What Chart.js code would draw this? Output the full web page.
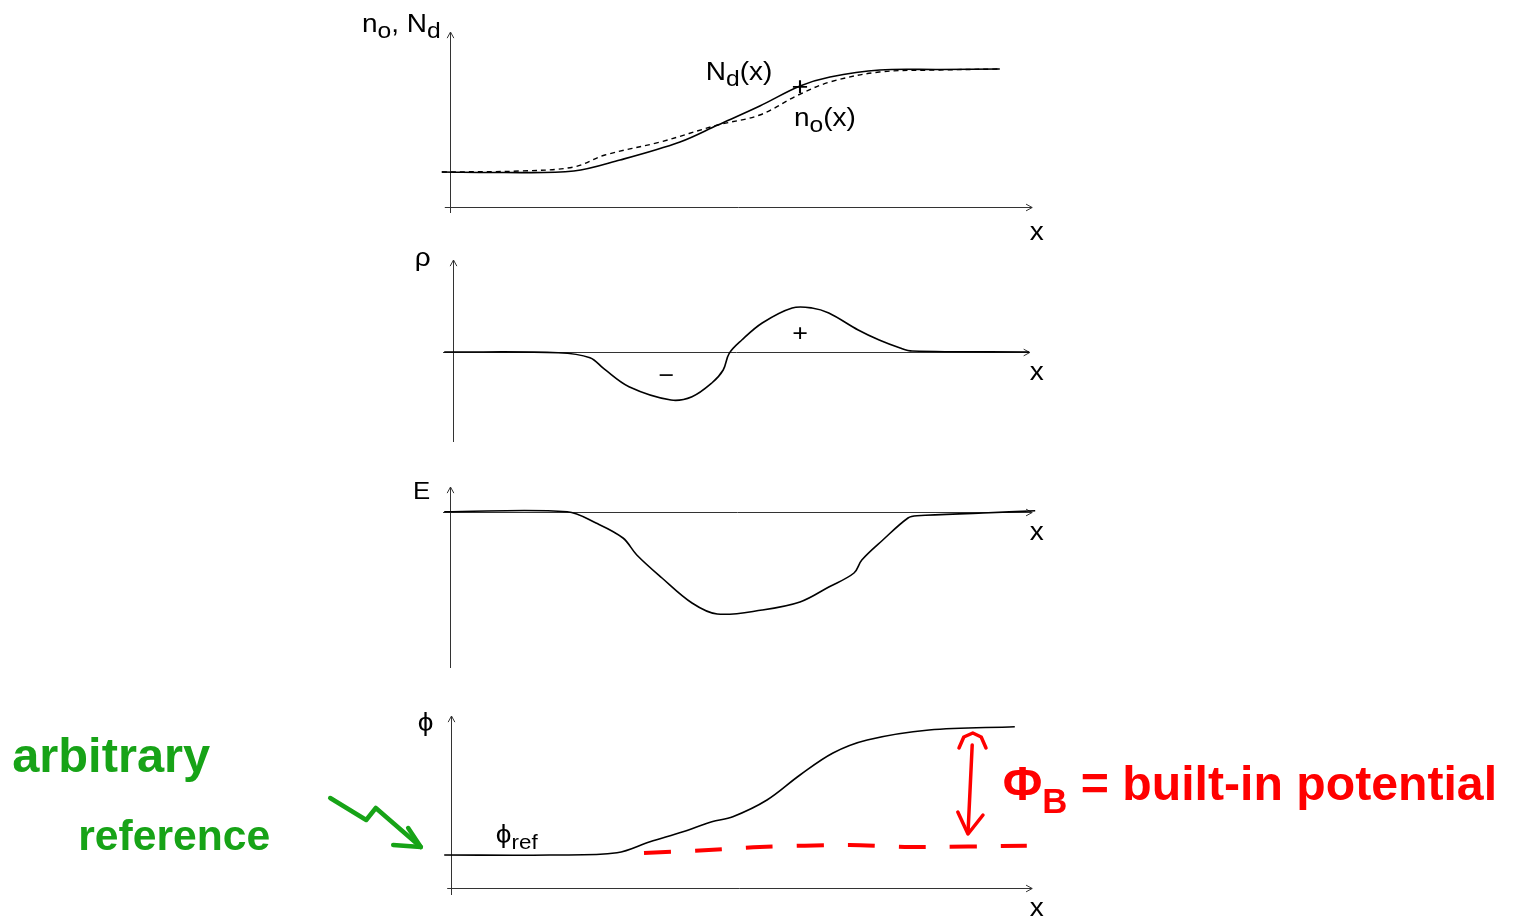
<!DOCTYPE html>
<html>
<head>
<meta charset="utf-8">
<script src="https://cdn.jsdelivr.net/npm/chart.js@4.4.1/dist/chart.umd.min.js"></script>
<style>
body { margin: 0; background: #fff; }
#wrap { position: relative; width: 1513px; height: 920px; }
canvas { position: absolute; left: 0; top: 0; }
</style>
</head>
<body>
<div id="wrap">
  <canvas id="cN" width="1513" height="920"></canvas>
  <canvas id="cRho" width="1513" height="920"></canvas>
  <canvas id="cE" width="1513" height="920"></canvas>
  <canvas id="cPhi" width="1513" height="920"></canvas>
</div>
<script>
// x runs 0..100 across every panel, y is in arbitrary units (0 = x axis)

// doping N_d(x) and electron density n_o(x)
const xNd = [0.3, 10, 22.3, 30, 40, 46.3, 53.3, 60, 65, 73.3, 83.3, 93.3];
const nd  = [3.5, 3.45, 3.6, 4.7, 6.5, 8.2, 10.1, 12.1, 13.0, 13.7, 13.75, 13.8];
const xN0 = [0.3, 13.3, 22.3, 27.5, 36.7, 46.3, 53.3, 59.7, 65, 73.2, 83.3, 93.3];
const n0  = [3.5, 3.6, 4.0, 5.2, 6.5, 8.2, 9.2, 11.2, 12.5, 13.5, 13.7, 13.8];

// charge density rho(x)
const xRho = [0.7, 19.7, 25, 27.3, 31.5, 38.5, 42, 45.3, 47.2, 48.2, 50.3, 53.7, 58.7, 62, 64.8, 69.7, 73.2, 76.7, 78.7, 98.2];
const rho  = [0, -0.07, -0.57, -1.67, -3.47, -4.8, -4.47, -3.1, -1.8, -0.13, 1.2, 2.9, 4.4, 4.4, 3.9, 2.2, 1.2, 0.4, 0.1, 0];

// electric field E(x)
const xE = [0.7, 21.2, 26, 30.5, 32.8, 37, 42, 46.2, 53.7, 60, 64.8, 69, 70.3, 73.8, 78, 79.5, 90.5, 99.2];
const eField = [0.03, 0.03, -1.1, -2.6, -4.3, -6.6, -9.1, -10.2, -9.8, -9.0, -7.5, -6.1, -4.8, -2.8, -0.6, -0.37, -0.1, 0.13];

// potential phi(x) and the reference level
const xPhi = [0.7, 18.3, 29.5, 35, 40.5, 45.3, 48.8, 54.5, 60, 65.5, 71.2, 81.5, 95.8];
const phi  = [3.3, 3.3, 3.53, 4.63, 5.63, 6.63, 7.13, 8.8, 11.3, 13.5, 14.8, 15.8, 16.13];
const xRef = [34, 43.3, 53.3, 68.3, 78.3, 97.8];
const phiRef = [3.5, 3.75, 4.1, 4.3, 4.1, 4.23];

const FONT = '"Liberation Sans", Arial, sans-serif';
const W = 1513, H = 920;

function pts(xs, ys) {
    return xs.map((x, i) => ({ x: x, y: ys[i] }));
}

// text pieces, [text, true] is a subscript
function richWidth(ctx, parts, size, weight, st) {
    let w = 0;
    parts.forEach(p => {
        const s = p[1] ? size * st.sub : size;
        ctx.font = weight + ' ' + s + 'px ' + FONT;
        w += ctx.measureText(p[0]).width;
    });
    return w * st.stretch;
}

function drawRich(ctx, parts, px, py, size, weight, st) {
    ctx.save();
    ctx.translate(px, py);
    ctx.scale(st.stretch, 1);
    let cx = 0;
    parts.forEach(p => {
        const s = p[1] ? size * st.sub : size;
        ctx.font = weight + ' ' + s + 'px ' + FONT;
        ctx.fillText(p[0], cx, p[1] ? size * st.drop : 0);
        cx += ctx.measureText(p[0]).width;
    });
    ctx.restore();
}

const LABEL = { stretch: 1.12, sub: 0.88, drop: 0.22 };
const HAND = { stretch: 1, sub: 0.72, drop: 0.28 };

function arrowLine(ctx, x0, y0, x1, y1) {
    ctx.beginPath();
    ctx.moveTo(x0, y0);
    ctx.lineTo(x1, y1);
    ctx.stroke();
    const a = Math.atan2(y1 - y0, x1 - x0);
    ctx.beginPath();
    ctx.moveTo(x1 - 7 * Math.cos(a - 0.5), y1 - 7 * Math.sin(a - 0.5));
    ctx.lineTo(x1, y1);
    ctx.lineTo(x1 - 7 * Math.cos(a + 0.5), y1 - 7 * Math.sin(a + 0.5));
    ctx.stroke();
}

function polyline(ctx, chart, list) {
    const { x, y } = chart.scales;
    ctx.beginPath();
    list.forEach((p, i) => {
        const px = x.getPixelForValue(p[0]), py = y.getPixelForValue(p[1]);
        if (i === 0) ctx.moveTo(px, py); else ctx.lineTo(px, py);
    });
    ctx.stroke();
}

// axes + labels for one panel
function makeSketch(cfg) {
    return {
        id: 'sketch',
        beforeDatasetsDraw(chart) {
            const { ctx, chartArea, scales: { x, y } } = chart;
            const ax = Math.round(x.getPixelForValue(cfg.yAxisAt)) + 0.5;
            const ay = Math.round(y.getPixelForValue(0)) + 0.5;
            ctx.save();
            ctx.strokeStyle = '#333';
            ctx.lineWidth = 1;
            arrowLine(ctx, ax, chartArea.bottom, ax, chartArea.top);
            arrowLine(ctx, x.getPixelForValue(cfg.xFrom), ay, x.getPixelForValue(cfg.xTo), ay);
            ctx.restore();
        },
        afterDatasetsDraw(chart) {
            const { ctx, scales: { x, y } } = chart;
            ctx.save();
            ctx.fillStyle = '#000';
            ctx.textBaseline = 'alphabetic';
            cfg.labels.forEach(l => {
                const st = l.st || LABEL;
                let px = x.getPixelForValue(l.at[0]);
                const py = y.getPixelForValue(l.at[1]);
                if (l.center) px -= richWidth(ctx, l.parts, l.size, 'normal', st) / 2;
                drawRich(ctx, l.parts, px, py, l.size, 'normal', st);
            });
            if (cfg.extra) cfg.extra(chart, ctx);
            ctx.restore();
        }
    };
}

function line(xs, ys, extra) {
    return Object.assign({
        data: pts(xs, ys),
        borderColor: '#000',
        borderWidth: 1.6,
        tension: 0.35,
        pointRadius: 0,
        fill: false,
        clip: false
    }, extra || {});
}

function panel(id, top, bottom, yMin, yMax, datasets, cfg) {
    return new Chart(document.getElementById(id), {
        type: 'line',
        data: { datasets: datasets },
        options: {
            responsive: false,
            animation: false,
            events: [],
            layout: { padding: { left: 440, right: W - 1040, top: top, bottom: H - bottom } },
            scales: {
                x: { type: 'linear', min: 0, max: 100, display: false },
                y: { type: 'linear', min: yMin, max: yMax, display: false }
            },
            plugins: { legend: { display: false }, tooltip: { enabled: false } }
        },
        plugins: [makeSketch(cfg)]
    });
}

// fits handwritten notes to a width given in data units
function note(ctx, chart, parts, x0, x1, yv, color) {
    const { x, y } = chart.scales;
    const px0 = x.getPixelForValue(x0), px1 = x.getPixelForValue(x1);
    const size = 100 * (px1 - px0) / richWidth(ctx, parts, 100, 'bold', HAND);
    ctx.fillStyle = color;
    drawRich(ctx, parts, px0, y.getPixelForValue(yv), size, 'bold', HAND);
}

panel('cN', 32, 213, -0.6, 17.5, [
    line(xNd, nd),
    line(xN0, n0, { borderDash: [5, 4], borderWidth: 1.4 })
], {
    yAxisAt: 1.67, xFrom: 0.8, xTo: 98.7,
    labels: [
        { at: [-13, 17.5], size: 25, parts: [['n'], ['o', true], [', N'], ['d', true]] },
        { at: [44.3, 12.7], size: 25, parts: [['N'], ['d', true], ['(x)']] },
        { at: [60, 11.2], size: 26, center: true, parts: [['+']] },
        { at: [59, 8.1], size: 25, parts: [['n'], ['o', true], ['(x)']] },
        { at: [98.3, -3.3], size: 25, parts: [['x']] }
    ]
});

panel('cRho', 260, 442, -9.0, 9.2, [line(xRho, rho)], {
    yAxisAt: 2.17, xFrom: 0.5, xTo: 98.3,
    labels: [
        { at: [-4.2, 8.6], size: 25, parts: [['ρ']] },
        { at: [37.7, -3.1], size: 24, center: true, parts: [['−']] },
        { at: [60, 1.1], size: 24, center: true, parts: [['+']] },
        { at: [98.3, -2.8], size: 25, parts: [['x']] }
    ]
});

panel('cE', 487, 668, -15.6, 2.5, [line(xE, eField)], {
    yAxisAt: 1.67, xFrom: 0.5, xTo: 98.7,
    labels: [
        { at: [-4.5, 1.3], size: 23, parts: [['E']] },
        { at: [98.3, -2.8], size: 25, parts: [['x']] }
    ]
});

panel('cPhi', 716, 895, -0.7, 17.2, [
    line(xPhi, phi),
    line(xRef, phiRef, { borderColor: '#f00', borderWidth: 4, borderDash: [27, 24], tension: 0.3 })
], {
    yAxisAt: 1.83, xFrom: 1.2, xTo: 98.7,
    labels: [
        { at: [-3.7, 15.7], size: 25, parts: [['ϕ']] },
        { at: [9.3, 4.5], size: 25, st: { stretch: 1.12, sub: 0.8, drop: 0.22 }, parts: [['ϕ'], ['ref', true]] },
        { at: [98.3, -2.8], size: 25, parts: [['x']] }
    ],
    extra: function(chart, ctx) {
        ctx.lineCap = 'round';
        ctx.lineJoin = 'round';
        // red double arrow: built-in potential
        ctx.strokeStyle = '#f00';
        ctx.lineWidth = 3.5;
        polyline(ctx, chart, [[88.7, 14.3], [88, 5.5]]);
        polyline(ctx, chart, [[86.5, 14.0], [87.3, 15.1], [88.8, 15.5], [90.2, 15.1], [91, 14.0]]);
        polyline(ctx, chart, [[86.3, 7.6], [88, 5.4], [90.5, 7.3]]);
        note(ctx, chart, [['Φ'], ['B', true], [' = built-in potential']], 93.8, 176.2, 8.8, '#f00');
        // green arrow: arbitrary reference
        ctx.strokeStyle = '#17a317';
        ctx.lineWidth = 4.5;
        polyline(ctx, chart, [[-18.3, 9.0], [-12.3, 6.8], [-10.7, 8.0], [-3.2, 4.1]]);
        polyline(ctx, chart, [[-7.8, 4.3], [-3.2, 4.1], [-5.3, 6.0]]);
        note(ctx, chart, [['arbitrary']], -71.3, -38.3, 11.6, '#17a317');
        note(ctx, chart, [['reference']], -60.3, -28.3, 3.8, '#17a317');
    }
});
</script>
</body>
</html>
